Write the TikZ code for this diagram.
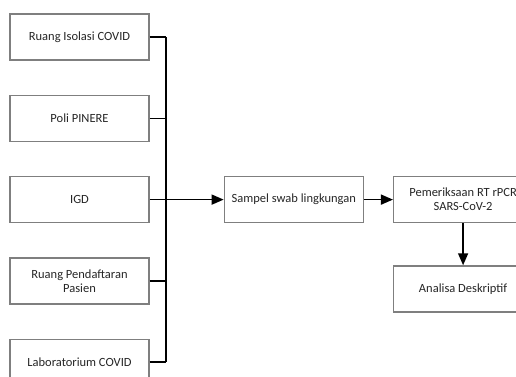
\documentclass[tikz,border=0pt]{standalone}
\usepackage{fontspec}
\setmainfont{Carlito}
\usetikzlibrary{positioning,arrows.meta}
\definecolor{frame}{HTML}{7F7F7F}
\definecolor{ink}{HTML}{262626}
\tikzset{box/.style={draw=frame,line width=1.3pt,fill=white,minimum width=139pt,minimum height=46pt,inner sep=2pt,align=center,text=ink,font=\fontsize{12.5}{14}\selectfont},wire/.style={draw=black,line width=1.6pt},link/.style={wire,-{Triangle[length=12pt,width=10pt]}}}

\begin{document}
\begin{tikzpicture}[x=1pt,y=-1pt,node distance=34pt and 74pt]
\clip (0,0) rectangle (516,376);
\node[box] (isolasi) at (79.5,37) {Ruang Isolasi COVID};
\node[box,below=of isolasi] (poli) {Poli PINERE};
\node[box,below=of poli] (igd) {IGD};
\node[box,below=of igd] (daftar) {Ruang Pendaftaran\\Pasien};
\node[box,below=of daftar] (lab) {Laboratorium COVID};
\coordinate (busx) at (166,0);
\node[box,right=of igd] (sampel) {Sampel swab lingkungan};
\node[box,right=29pt of sampel] (pcr) {Pemeriksaan RT rPCR\\SARS-CoV-2};
\node[box,below=42pt of pcr] (analisa) {Analisa Deskriptif};
\foreach \x in {isolasi,poli,daftar,lab}\draw[wire] (\x.east)--(\x.east-|busx);
\draw[wire] (isolasi.east-|busx)--(lab.east-|busx);
\draw[link] (igd)--(sampel);
\draw[link] (sampel)--(pcr);
\draw[link] (pcr)--(analisa);
\end{tikzpicture}
\end{document}
